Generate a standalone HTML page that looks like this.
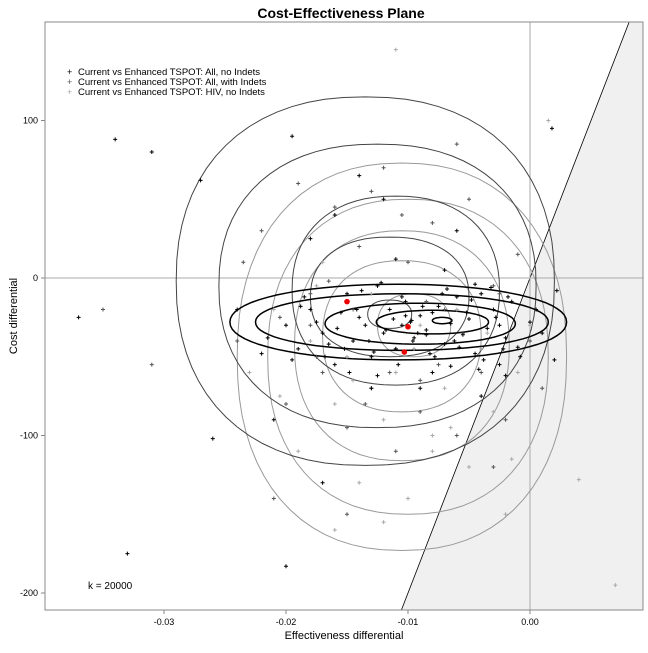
<!DOCTYPE html>
<html><head><meta charset="utf-8"><style>
body{margin:0;background:#fff;font-family:"Liberation Sans",Arial,sans-serif}
svg text{font-family:"Liberation Sans",Arial,sans-serif}
</style></head><body>
<svg id="c" width="648" height="648" xmlns="http://www.w3.org/2000/svg">
<rect width="648" height="648" fill="#fff"/>
<text x="341" y="18" text-anchor="middle" font-size="14" font-weight="bold">Cost-Effectiveness Plane</text>
<defs><clipPath id="clip"><rect x="45" y="22" width="598" height="588"/></clipPath></defs>
<g id="plot" clip-path="url(#clip)"></g>
<rect x="45" y="22" width="598" height="588" fill="none" stroke="#888" stroke-width="1"/>
<g id="axes"></g>
<text x="344" y="639" text-anchor="middle" font-size="11">Effectiveness differential</text>
<text x="17" y="316" text-anchor="middle" font-size="11" transform="rotate(-90 17 316)">Cost differential</text>
<text x="88" y="589" font-size="10">k = 20000</text>
<g>
<g><text x="67" y="75" font-size="9" fill="#000">+</text><text x="78" y="75" font-size="9.5">Current vs Enhanced TSPOT: All, no Indets</text></g>
<g><text x="67" y="85" font-size="9" fill="#555">+</text><text x="78" y="85" font-size="9.5">Current vs Enhanced TSPOT: All, with Indets</text></g>
<g><text x="67" y="95" font-size="9" fill="#aaa">+</text><text x="78" y="95" font-size="9.5">Current vs Enhanced TSPOT: HIV, no Indets</text></g>
</g>
</svg>
<script>
const xTicks=[-0.03,-0.02,-0.01,0.00];
const xTickLabels=["-0.03","-0.02","-0.01","0.00"];
const yTicks=[100,0,-100,-200];
const yTickLabels=["100","0","-100","-200"];
const wtp=20000;
const s1x=[-0.022,-0.02,-0.019,-0.018,-0.017,-0.016,-0.015,-0.0145,-0.014,-0.013,-0.0125,-0.012,-0.0115,-0.011,-0.0105,-0.0102,-0.0098,-0.0095,-0.009,-0.0085,-0.008,-0.0075,-0.007,-0.0065,-0.006,-0.0055,-0.005,-0.0045,-0.004,-0.0035,-0.003,-0.0025,-0.002,-0.0015,-0.001,0.0,0.001,0.002,-0.037,-0.034,-0.031,-0.027,-0.026,-0.033,-0.02,-0.0195,-0.024,-0.018,-0.016,-0.013,-0.011,-0.008,-0.006,-0.004,-0.002,0.0018,-0.021,-0.017,-0.014,-0.012,-0.009,-0.007,
 -0.0215,-0.0195,-0.0185,-0.0175,-0.0165,-0.0155,-0.0148,-0.0138,-0.0128,-0.0118,-0.0108,-0.0096,-0.0088,-0.0078,-0.0068,-0.0058,-0.0048,-0.0038,-0.0028,-0.0018,-0.0008,0.0005,0.0022,-0.0135,-0.0112,-0.0092,-0.0082,-0.0072,-0.0062,-0.0052,-0.0042,-0.0032,-0.0022,-0.0158,-0.0168,-0.0188,-0.0125,-0.0105,-0.0085,-0.0065,-0.0045,-0.0025,-0.0152,-0.0142,-0.0132,-0.0122,-0.0102,-0.0097];
const s1y=[-48,-30,-45,-20,-35,-55,-10,-40,-25,-50,-5,-35,-20,-45,-30,-15,-28,-38,-24,-33,-22,-18,-42,-29,-12,-36,-26,-48,-10,-32,-20,-55,-38,-15,-44,-28,-35,-52,-25,88,80,62,-102,-175,-183,90,-20,25,40,-70,12,-60,30,-75,-62,95,-90,-130,65,50,-70,5,
 -38,-52,-12,-28,-42,-22,-60,-8,-47,-33,-55,-40,-18,-50,-7,-44,-14,-52,-25,-12,-50,-20,-8,-30,-26,-35,-48,-10,-40,-22,-58,-6,-45,-32,-50,-18,-62,-12,-36,-56,-4,-30,-45,-20,-40,-3,-24,-27];
const s2x=[-0.024,-0.022,-0.02,-0.019,-0.018,-0.017,-0.016,-0.015,-0.014,-0.013,-0.012,-0.011,-0.01,-0.009,-0.008,-0.007,-0.006,-0.005,-0.004,-0.003,-0.002,-0.001,0.0,0.001,-0.031,-0.035,-0.021,-0.015,-0.011,-0.006,-0.003,-0.018,-0.013,-0.009,-0.0235,-0.0205,-0.0175,-0.0145,-0.0115,-0.0085,-0.0055,-0.0025,-0.0165,-0.0135,-0.0105,-0.0075];
const s2y=[-40,30,-80,60,-10,-60,45,-95,20,-70,70,-45,10,-85,35,-20,-100,50,-60,-5,-90,15,-40,-70,-55,-20,-140,-150,-110,85,-120,-30,55,-65,10,-25,-50,-20,-60,-15,-35,-10,-2,-80,40,-55];
const s3x=[-0.023,-0.021,-0.019,-0.018,-0.017,-0.016,-0.015,-0.014,-0.013,-0.012,-0.011,-0.01,-0.009,-0.008,-0.007,-0.006,-0.005,-0.004,-0.003,-0.002,-0.001,0.0,0.0015,0.004,0.007,-0.011,-0.016,-0.012,-0.008,-0.004,-0.0205,-0.0175,-0.0145,-0.0095,-0.0065,-0.0035,-0.0015];
const s3y=[-60,-20,-110,-40,10,-80,-50,-130,-10,-90,-60,-140,-30,-100,-70,-20,-120,-45,-85,-150,-60,-30,100,-128,-195,145,-160,-155,-110,-10,-75,-5,-65,-45,-95,-35,-115];
const meanX=[-0.015,-0.01,-0.0103];
const meanY=[-15,-31,-47];
// contour levels: [centerX, centerY, radiusX, radiusY]
const c1=[[-0.0108,-28,0.0138,24],[-0.0105,-28,0.012,18],[-0.009,-29,0.0078,13],[-0.008,-28,0.0046,7.5],[-0.0072,-27,0.0008,2]];
const c2=[[-0.0135,-2,0.0155,117],[-0.0125,-5,0.013,90],[-0.011,-8,0.0085,60],[-0.0115,-12,0.0065,38],[-0.0115,-23,0.0018,9]];
const c3=[[-0.0105,-50,0.0135,123],[-0.01,-50,0.0115,100],[-0.0105,-43,0.0088,73],[-0.0105,-37,0.0065,48],[-0.0095,-30,0.003,20]];
const NS="http://www.w3.org/2000/svg";
const sx=v=>530+v*12200, sy=v=>278-v*1.575;
const plot=document.getElementById('plot'), axes=document.getElementById('axes');
function mk(tag,at,parent){const e=document.createElementNS(NS,tag);for(const k in at)e.setAttribute(k,at[k]);parent.appendChild(e);return e;}
const yb=-215,yt=170;
let reg=mk('polygon',{points:`${sx(yb/wtp)},${sy(yb)} ${sx(yt/wtp)},${sy(yt)} 660,${sy(yt)} 660,${sy(yb)}`,fill:'#f0f0f0',stroke:'#000','stroke-width':0.8},plot);


let vl=mk('line',{x1:sx(0),x2:sx(0),y1:22,y2:610,stroke:'#aaa'},plot);


let hl=mk('line',{x1:45,x2:643,y1:sy(0),y2:sy(0),stroke:'#aaa'},plot);


function contour(c,col,w,name,pw){
  c.forEach((lv,i)=>{let d='';for(let t=0;t<=72;t++){const a=t/72*2*Math.PI,ca=Math.cos(a),sa=Math.sin(a);
    const px=lv[0]+lv[2]*Math.sign(ca)*Math.pow(Math.abs(ca),pw),py=lv[1]+lv[3]*Math.sign(sa)*Math.pow(Math.abs(sa),pw);
    d+=(t?'L':'M')+sx(px).toFixed(1)+','+sy(py).toFixed(1);}
    const p=mk('path',{d:d+'Z',fill:'none',stroke:col,'stroke-width':w},plot);
    
    });
}
contour(c3,'#999',1,'contour-hiv-no-indets',0.88);
contour(c2,'#444',1,'contour-all-with-indets',0.88);
contour(c1,'#000',1.5,'contour-all-no-indets',0.95);
function pts(xs,ys,col,name){xs.forEach((x,i)=>{const X=sx(x),Y=sy(ys[i]);
  const p=mk('path',{d:`M${X-2},${Y}H${X+2}M${X},${Y-2}V${Y+2}`,stroke:col,'stroke-width':1},plot);
  
  });}
pts(s3x,s3y,'#aaa','point-hiv-no-indets');
pts(s2x,s2y,'#555','point-all-with-indets');
pts(s1x,s1y,'#000','point-all-no-indets');
meanX.forEach((x,i)=>{const m=mk('circle',{cx:sx(x),cy:sy(meanY[i]),r:2.8,fill:'#e00'},plot);
  
  });
xTicks.forEach((v,i)=>{const t=mk('line',{x1:sx(v),x2:sx(v),y1:610,y2:614,stroke:'#888'},axes);
  
  
  const l=mk('text',{x:sx(v),y:625,'text-anchor':'middle','font-size':9},axes);l.textContent=xTickLabels[i];
  
  });
yTicks.forEach((v,i)=>{const t=mk('line',{x1:41,x2:45,y1:sy(v),y2:sy(v),stroke:'#888'},axes);
  
  
  const l=mk('text',{x:38,y:sy(v)+3,'text-anchor':'end','font-size':9},axes);l.textContent=yTickLabels[i];
  
  });
</script>
</body></html>
